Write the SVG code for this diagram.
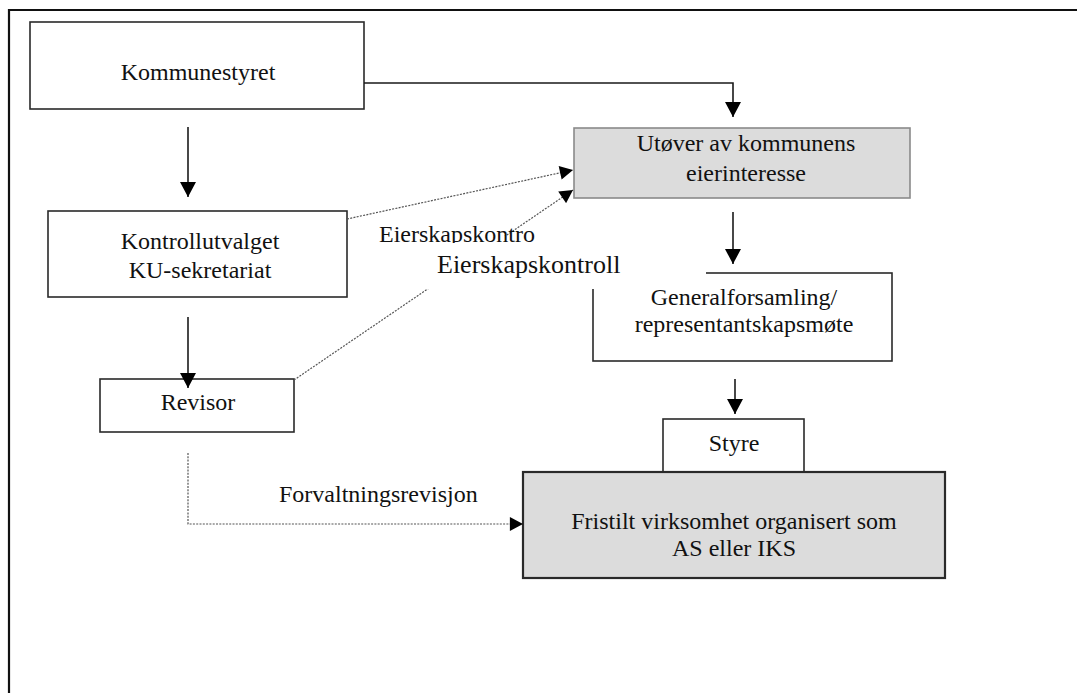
<svg xmlns="http://www.w3.org/2000/svg" width="1077" height="693" viewBox="0 0 1077 693">
<style>
text{font-family:"Liberation Serif","Times New Roman",serif;font-size:24px;fill:#111;}
.c{text-anchor:middle;}
.box{fill:#fff;stroke:#2a2a2a;stroke-width:1.6;}
.grey{fill:#dcdcdc;}
.solid{fill:none;stroke:#1a1a1a;stroke-width:1.6;}
.dot{fill:none;stroke:#555;stroke-width:1.2;stroke-dasharray:2 1.3;}
.frame{fill:none;stroke:#111;stroke-width:2.2;}
</style>
<defs>
<marker id="ah" viewBox="0 0 15 16" refX="15" refY="8" markerWidth="15" markerHeight="16" markerUnits="userSpaceOnUse" orient="auto">
<path d="M0,0 L15,8 L0,16 z" fill="#000"/>
</marker>
<marker id="ahs" viewBox="0 0 15 16" refX="15" refY="8" markerWidth="14" markerHeight="14" markerUnits="userSpaceOnUse" orient="auto">
<path d="M0,0 L15,8 L0,16 z" fill="#000"/>
</marker>
<clipPath id="clip1"><rect x="370" y="215" width="180" height="28"/></clipPath>
</defs>
<rect width="1077" height="693" fill="#fff"/>
<g id="frame">
<path class="frame" d="M9,693 V10 H1077"/>
</g>
<g id="kommunestyret">
<rect class="box" x="30" y="22" width="334" height="87"/>
<text class="c" x="198" y="80">Kommunestyret</text>
</g>
<g id="kontrollutvalget">
<rect class="box" x="48" y="211" width="299" height="86"/>
<text class="c" x="200" y="249">Kontrollutvalget</text>
<text class="c" x="200" y="278">KU-sekretariat</text>
</g>
<g id="revisor">
<rect class="box" x="100" y="379" width="194" height="53"/>
<text class="c" x="198" y="410">Revisor</text>
</g>
<g id="utover">
<rect class="box grey" style="stroke:#8a8a8a" x="574" y="128" width="336" height="70"/>
<text class="c" x="746" y="151">Utøver av kommunens</text>
<text class="c" x="746" y="181">eierinteresse</text>
</g>
<g id="generalforsamling">
<rect class="box" x="593" y="273" width="299" height="88"/>
<text class="c" x="744" y="305">Generalforsamling/</text>
<text class="c" x="744" y="332">representantskapsmøte</text>
</g>
<g id="styre">
<rect class="box" x="663" y="419" width="141" height="53"/>
<text class="c" x="734" y="451">Styre</text>
</g>
<g id="fristilt">
<rect class="box grey" style="stroke-width:2.2" x="523" y="472" width="422" height="106"/>
<text class="c" x="734" y="529">Fristilt virksomhet organisert som</text>
<text class="c" x="734" y="556">AS eller IKS</text>
</g>
<g id="connectors">
<line class="solid" x1="188" y1="127" x2="188" y2="197" marker-end="url(#ah)"/>
<line class="solid" x1="188" y1="317" x2="188" y2="388" marker-end="url(#ah)"/>
<path class="solid" d="M364,83 H733 V117" marker-end="url(#ah)"/>
<line class="solid" x1="733" y1="212" x2="733" y2="264" marker-end="url(#ah)"/>
<line class="solid" x1="735" y1="379" x2="735" y2="414" marker-end="url(#ah)"/>
<line class="dot" x1="347" y1="219" x2="573" y2="170" marker-end="url(#ahs)"/>
<line class="dot" x1="294" y1="380" x2="573" y2="190" marker-end="url(#ahs)"/>
<path class="dot" d="M188,453 V524 H523" marker-end="url(#ahs)"/>
</g>
<g id="labels">
<rect x="425" y="236" width="281" height="53" fill="#fff"/>
<text x="437" y="273" style="font-size:26px">Eierskapskontroll</text>
<text x="379" y="242" clip-path="url(#clip1)">Eierskapskontro</text>
<text x="279" y="502">Forvaltningsrevisjon</text>
</g>
</svg>
